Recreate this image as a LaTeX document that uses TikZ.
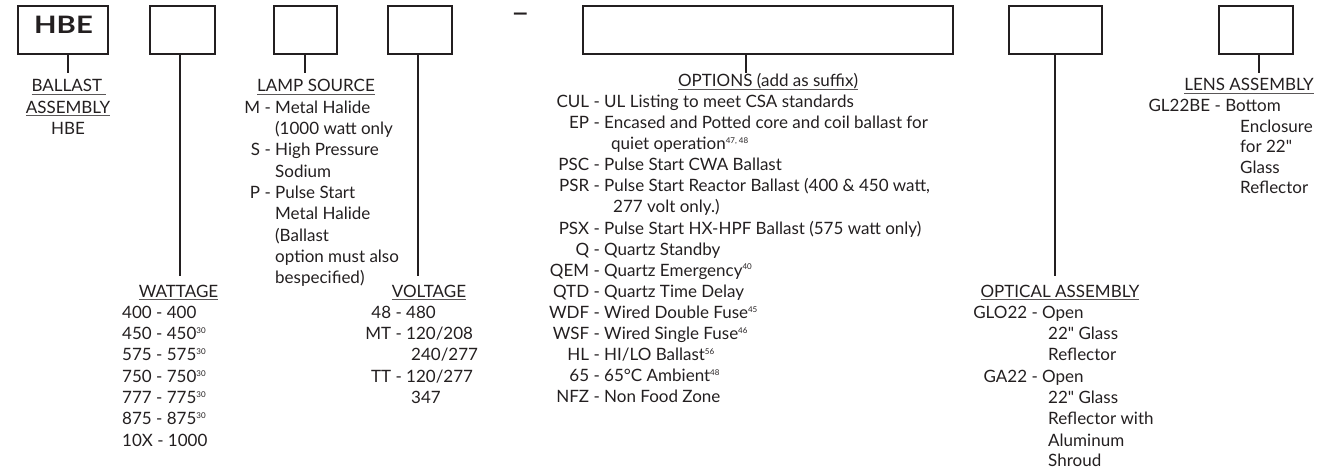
\documentclass[tikz,border=0pt]{standalone}
\usepackage{fontspec}
\setmainfont{Lato}
\definecolor{ink}{HTML}{231F20}
\newcommand\hdr[1]{\setbox0=\hbox{#1}\rlap{\color{ink!75}\rule[-3pt]{\wd0}{0.9pt}}\box0}
\newcommand\sups[1]{\raisebox{6pt}{\fontsize{8}{8}\selectfont #1}}
\newcommand\qq{\textquotedbl}
\begin{document}
\begin{tikzpicture}[x=1pt,y=-1pt,
  box/.style={draw=ink, line width=1.1pt, inner sep=0pt},
  conn/.style={draw=ink, line width=1.1pt},
  txt/.style={inner sep=0pt, anchor=base west, font=\fontsize{17}{17}\selectfont, text=ink},
  head/.style={txt, anchor=base}]
\useasboundingbox (0,0) rectangle (1337,470);
% boxes
\node[box, minimum width=90pt, minimum height=48pt] (b1) at (63,30) {};
\node[box, minimum width=65pt, minimum height=48pt] (b2) at (182.5,30) {};
\node[box, minimum width=63pt, minimum height=48pt] (b3) at (305.5,30) {};
\node[box, minimum width=64pt, minimum height=48pt] (b4) at (420,30) {};
\node[box, minimum width=370pt, minimum height=48pt] (b5) at (768,30) {};
\node[box, minimum width=93pt, minimum height=48pt] (b6) at (1055.5,30) {};
\node[box, minimum width=74pt, minimum height=48pt] (b7) at (1256,30) {};
\node[inner sep=0pt, text=ink, font=\fontsize{24}{24}\bfseries\selectfont] (hbe) at (63.5,25) {\scalebox{1.22}[1]{HBE}};
\node[inner sep=0pt, text=ink, font=\fontsize{32}{32}\selectfont] (dash) at (520.5,18) {–};
% connector ends
\coordinate (c1) at (68,73);
\coordinate (c2) at (180,276);
\coordinate (c3) at (305,73);
\coordinate (c4) at (418,276);
\coordinate (c5) at (746,73);
\coordinate (c6) at (1055,276);
\coordinate (c7) at (1259,73);
\draw[conn] (b1.south -| c1) -- (c1);
\draw[conn] (b2.south -| c2) -- (c2);
\draw[conn] (b3.south -| c3) -- (c3);
\draw[conn] (b4.south -| c4) -- (c4);
\draw[conn] (b5.south -| c5) -- (c5);
\draw[conn] (b6.south -| c6) -- (c6);
\draw[conn] (b7.south -| c7) -- (c7);
% ballast
\node[head] (h1) at (69,92) {\hdr{BALLAST\ }};
\node[head] (h1b) at (68,113.3) {\hdr{ASSEMBLY}};
\node[head] (h1c) at (68,134.6) {HBE};
% lamp source
\node[head] (h3) at (316,92) {\hdr{LAMP SOURCE}};
\node[txt] (l1) at (275,113.3) {\llap{M - }Metal Halide};
\node[txt] (l2) at (275,134.6) {(1000 watt only};
\node[txt] (l3) at (275,155.9) {\llap{S - }High Pressure};
\node[txt] (l4) at (275,177.2) {Sodium};
\node[txt] (l5) at (275,198.5) {\llap{P - }Pulse Start};
\node[txt] (l6) at (275,219.8) {Metal Halide};
\node[txt] (l7) at (275,241.1) {(Ballast};
\node[txt] (l8) at (275,262.4) {option must also};
\node[txt] (l9) at (275,283.7) {bespecified)};
% wattage
\node[head] (h2) at (178.5,297) {\hdr{WATTAGE}};
\node[txt] (w1) at (122,318.3) {400 - 400};
\node[txt] (w2) at (122,339.6) {450 - 450\sups{30}};
\node[txt] (w3) at (122,360.9) {575 - 575\sups{30}};
\node[txt] (w4) at (122,382.2) {750 - 750\sups{30}};
\node[txt] (w5) at (122,403.5) {777 - 775\sups{30}};
\node[txt] (w6) at (122,424.8) {875 - 875\sups{30}};
\node[txt] (w7) at (122,446.1) {10X - 1000};
% voltage
\node[head] (h4) at (429,297) {\hdr{VOLTAGE}};
\node[txt] (v1) at (406,318.3) {\llap{48 - }480};
\node[txt] (v2) at (406,339.6) {\llap{MT - }120/208};
\node[txt] (v3) at (411,360.9) {240/277};
\node[txt] (v4) at (406,382.2) {\llap{TT - }120/277};
\node[txt] (v5) at (411,403.5) {347};
% options
\node[head] (h5) at (768,87) {\hdr{OPTIONS (add as suffix)}};
\node[txt] (o1) at (604,108) {\llap{CUL - }UL Listing to meet CSA standards};
\node[txt] (o2) at (604,129) {\llap{EP - }Encased and Potted core and coil ballast for};
\node[txt] (o3) at (611,150) {quiet operation\sups{47, 48}};
\node[txt] (o4) at (604,171) {\llap{PSC - }Pulse Start CWA Ballast};
\node[txt] (o5) at (604,192) {\llap{PSR - }Pulse Start Reactor Ballast (400 \& 450 watt,};
\node[txt] (o6) at (613,213) {277 volt only.)};
\node[txt] (o7) at (604,234) {\llap{PSX - }Pulse Start HX-HPF Ballast (575 watt only)};
\node[txt] (o8) at (604,255) {\llap{Q - }Quartz Standby};
\node[txt] (o9) at (604,276) {\llap{QEM - }Quartz Emergency\sups{40}};
\node[txt] (o10) at (604,297) {\llap{QTD - }Quartz Time Delay};
\node[txt] (o11) at (604,318) {\llap{WDF - }Wired Double Fuse\sups{45}};
\node[txt] (o12) at (604,339) {\llap{WSF - }Wired Single Fuse\sups{46}};
\node[txt] (o13) at (604,360) {\llap{HL - }HI/LO Ballast\sups{56}};
\node[txt] (o14) at (604,381) {\llap{65 - }65°C Ambient\sups{48}};
\node[txt] (o15) at (604,402) {\llap{NFZ - }Non Food Zone};
% optical
\node[head] (h6) at (1060,297) {\hdr{OPTICAL ASSEMBLY}};
\node[txt] (p1) at (1042,318.3) {\llap{GLO22 - }Open};
\node[txt] (p2) at (1048,339.6) {22\qq{} Glass};
\node[txt] (p3) at (1048,360.9) {Reflector};
\node[txt] (p4) at (1042,382.2) {\llap{GA22 - }Open};
\node[txt] (p5) at (1048,403.5) {22\qq{} Glass};
\node[txt] (p6) at (1048,424.8) {Reflector with};
\node[txt] (p7) at (1048,446.1) {Aluminum};
\node[txt] (p8) at (1048,466.5) {Shroud};
% lens
\node[head] (h7) at (1249,91) {\hdr{LENS ASSEMBLY}};
\node[txt] (n1) at (1225,111.6) {\llap{GL22BE - }Bottom};
\node[txt] (n2) at (1240,132.2) {Enclosure};
\node[txt] (n3) at (1240,152.8) {for 22\qq};
\node[txt] (n4) at (1240,173.4) {Glass};
\node[txt] (n5) at (1240,194) {Reflector};
\end{tikzpicture}
\end{document}
